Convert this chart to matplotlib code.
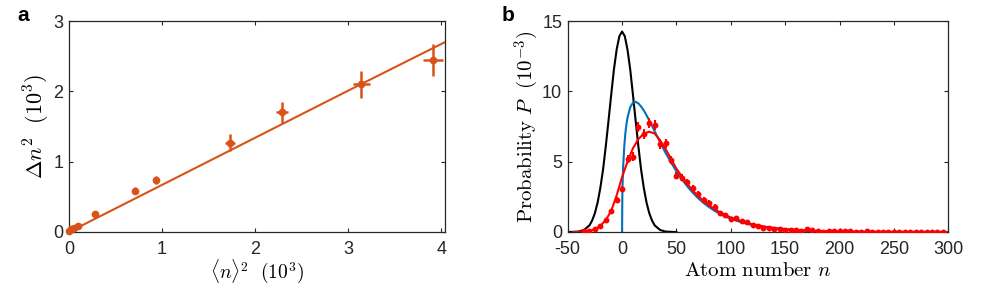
import matplotlib
matplotlib.use("Agg")
import matplotlib.pyplot as plt
import numpy as np

plt.rcParams['font.family'] = ['Liberation Sans', 'DejaVu Sans']
plt.rcParams['mathtext.fontset'] = 'cm'
plt.rcParams['axes.unicode_minus'] = False

ORANGE = '#D95319'
BLUE = '#0072BD'

# ---------------- Panel a data ----------------
a_x = [0.0, 0.02, 0.05, 0.10, 0.28, 0.71, 0.94, 1.73, 2.29, 3.14, 3.91]
a_y = [0.02, 0.04, 0.06, 0.09, 0.25, 0.59, 0.74, 1.27, 1.70, 2.10, 2.45]
a_xerr = [0.005, 0.005, 0.01, 0.01, 0.02, 0.025, 0.03, 0.055, 0.065, 0.09, 0.105]
a_yerr = [0.01, 0.01, 0.01, 0.02, 0.03, 0.05, 0.06, 0.12, 0.15, 0.19, 0.225]
a_fit_x = [0.0, 1.0, 2.0, 3.0, 4.04]
a_fit_y = [0.0, 0.67, 1.34, 2.01, 2.70]
a_xticks = [0, 1, 2, 3, 4]
a_yticks = [0, 1, 2, 3]

# ---------------- Panel b data ----------------
b_x = [-35, -30, -25, -20, -15, -10, -5, 0, 5, 10, 15, 20, 25, 30, 35, 40, 45,
       50, 55, 60, 65, 70, 75, 80, 85, 90, 95, 100, 105, 110, 115, 120, 125,
       130, 135, 140, 145, 150, 155, 160, 165, 170, 175, 180, 185, 190, 195,
       200, 205, 210, 215, 220, 225, 230, 235, 240, 245, 250, 255, 260, 265,
       270, 275, 280, 285, 290, 295]
b_y = [0.04, 0.09, 0.21, 0.45, 0.87, 1.46, 2.29, 3.07, 5.17, 5.36, 7.49, 6.95,
       7.72, 7.62, 6.25, 6.31, 5.12, 4.00, 3.85, 3.55, 3.10, 2.72, 2.29, 2.05,
       1.81, 1.35, 1.23, 0.94, 0.99, 0.75, 0.68, 0.52, 0.40, 0.28, 0.31, 0.21,
       0.21, 0.16, 0.14, 0.11, 0.09, 0.21, 0.11, 0.04, 0.00, 0.04, 0.04, 0.06,
       0.04, 0.04, 0.02, 0.02, 0.04, 0.00, 0.00, 0.00, 0.02, 0.02, 0.00, 0.00,
       0.00, 0.00, 0.02, 0.00, 0.00, 0.00, 0.00]
b_yerr = [0.03, 0.04, 0.06, 0.09, 0.12, 0.16, 0.2, 0.23, 0.3, 0.3, 0.36, 0.34,
          0.36, 0.36, 0.33, 0.33, 0.29, 0.26, 0.25, 0.24, 0.23, 0.21, 0.2, 0.19,
          0.17, 0.15, 0.14, 0.13, 0.13, 0.11, 0.11, 0.09, 0.08, 0.07, 0.07, 0.06,
          0.06, 0.05, 0.05, 0.04, 0.04, 0.06, 0.04, 0.03, 0.02, 0.03, 0.03, 0.03,
          0.03, 0.03, 0.02, 0.02, 0.03, 0.02, 0.02, 0.02, 0.02, 0.02, 0.02, 0.02,
          0.02, 0.02, 0.02, 0.02, 0.02, 0.02, 0.02]
b_xerr = 1.8

# black curve (atom-number resolution)
black_x = [-50, -45, -40, -35, -30, -27.5, -25, -22.5, -20, -17.5, -15, -12.5,
           -10, -7.5, -5, -2.5, 0, 2.5, 5, 7.5, 10, 12.5, 15, 17.5, 20, 22.5,
           25, 27.5, 30, 35, 40, 45, 50]
black_y = [0.0, 0.01, 0.03, 0.14, 0.47, 0.82, 1.34, 2.09, 3.13, 4.43, 6.08,
           7.89, 9.76, 11.55, 12.96, 13.92, 14.25, 13.92, 12.96, 11.55, 9.76,
           7.89, 6.08, 4.43, 3.13, 2.09, 1.34, 0.82, 0.47, 0.14, 0.03, 0.01, 0.0]

# blue curve (ideal distribution)
blue_x = [0, 0.25, 0.5, 1, 2, 3, 4, 5, 7.5, 10, 12.5, 15, 17.5, 20, 22.5, 25,
          30, 35, 40, 45, 50, 55, 60, 65, 70, 75, 80, 85, 90, 95, 100, 110,
          120, 130, 140, 150, 160, 180, 200, 225, 250, 300]
blue_y = [0.0, 2.6, 3.48, 4.64, 6.07, 6.99, 7.65, 8.13, 8.87, 9.19, 9.25, 9.14,
          8.92, 8.64, 8.30, 7.93, 7.16, 6.38, 5.63, 4.95, 4.31, 3.75, 3.24,
          2.80, 2.40, 2.06, 1.77, 1.51, 1.29, 1.10, 0.94, 0.68, 0.49, 0.35,
          0.25, 0.18, 0.13, 0.06, 0.03, 0.01, 0.003, 0.0]

# red curve (fit including detection noise)
red_x = [-45, -40, -35, -30, -25, -20, -15, -10, -5, 0, 5, 10, 15, 20, 25, 30,
         35, 40, 45, 50, 55, 60, 65, 70, 75, 80, 85, 90, 95, 100, 110, 120,
         130, 140, 150, 160, 170, 180, 200, 225, 250, 300]
red_y = [0.0, 0.01, 0.03, 0.08, 0.2, 0.42, 0.85, 1.5, 2.6, 3.9, 5.0, 5.95,
         6.6, 7.0, 7.13, 7.0, 6.5, 5.9, 5.2, 4.5, 3.95, 3.42, 2.95, 2.55, 2.2,
         1.9, 1.63, 1.4, 1.2, 1.03, 0.76, 0.55, 0.4, 0.29, 0.21, 0.15, 0.1,
         0.07, 0.03, 0.01, 0.005, 0.0]
b_xticks = [-50, 0, 50, 100, 150, 200, 250, 300]
b_yticks = [0, 5, 10, 15]

W, H = 992, 286
fig = plt.figure(figsize=(W / 100, H / 100), dpi=100)

def style(ax):
    for s in ax.spines.values():
        s.set_color('#262626')
        s.set_linewidth(0.9)
    ax.tick_params(direction='in', length=3.2, width=0.8, colors='#262626',
                   top=True, right=True, labelsize=13)
    ax.tick_params(axis='x', pad=6.5)
    ax.tick_params(axis='y', pad=4)

LABEL_FS = 15

# Panel a
axa = fig.add_axes([69 / W, 1 - 232 / H, (445 - 69) / W, (232 - 21) / H])
axa.plot(a_fit_x, a_fit_y, color=ORANGE, lw=1.5)
axa.errorbar(a_x, a_y, xerr=a_xerr, yerr=a_yerr, fmt='o', color=ORANGE,
             ms=4.5, elinewidth=1.8, capsize=0, clip_on=False, zorder=3)
axa.set_xlim(0, 4.04)
axa.set_ylim(0, 3)
axa.set_xticks(a_xticks)
axa.set_yticks(a_yticks)
style(axa)
axa.set_xlabel(r'$\langle n\rangle^2\ \ (10^3)$', fontsize=14, labelpad=-0.8)
axa.set_ylabel(r'$\Delta n^2\ \ (10^3)$', fontsize=LABEL_FS + 1, labelpad=1)

# Panel b
axb = fig.add_axes([567.7 / W, 1 - 232 / H, (948.3 - 567.7) / W, (232 - 21) / H])
axb.plot(black_x, black_y, color='black', lw=1.5)
axb.plot(blue_x, blue_y, color=BLUE, lw=1.5)
axb.plot(red_x, red_y, color='red', lw=1.5)
axb.errorbar(b_x, b_y, xerr=b_xerr, yerr=b_yerr, fmt='o', color='red',
             ms=3.2, elinewidth=1.5, capsize=0, zorder=3)
axb.set_xlim(-50, 300)
axb.set_ylim(0, 15)
axb.set_xticks(b_xticks)
axb.set_yticks(b_yticks)
style(axb)
axb.set_xlabel(r'$\mathrm{Atom\ number}\ n$', fontsize=LABEL_FS, labelpad=2)
axb.set_ylabel(r'$\mathrm{Probability}\ P\ \ (10^{-3})$', fontsize=LABEL_FS, labelpad=1)

fig.text(17 / W, 1 - 21 / H, 'a', fontsize=15, fontweight='bold', ha='left', va='baseline')
fig.text(502 / W, 1 - 21 / H, 'b', fontsize=15, fontweight='bold', ha='left', va='baseline')

fig.savefig('out.png', dpi=100)
